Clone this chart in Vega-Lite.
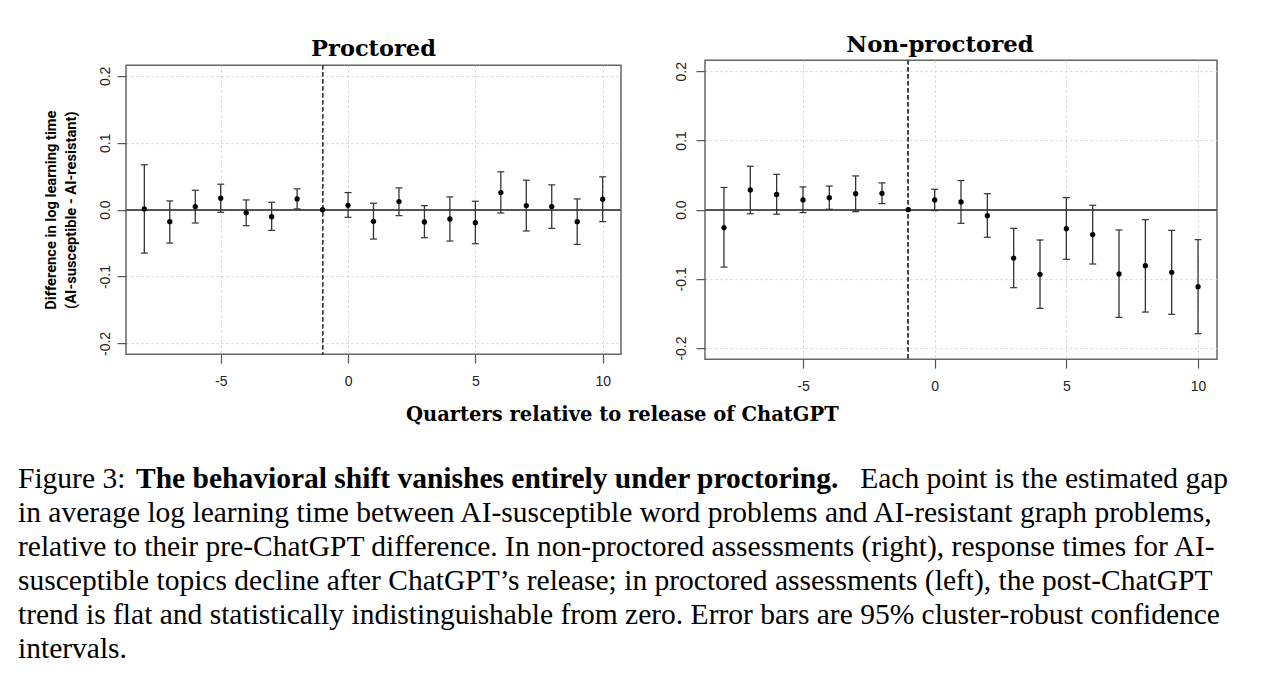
{
  "$schema": "https://vega.github.io/schema/vega-lite/v6.json",
  "padding": {"left": 18, "top": 33, "right": 0, "bottom": 0},
  "background": "white",
  "spacing": 39,
  "config": {
    "view": {"stroke": "#666666", "strokeWidth": 1.5},
    "axis": {
      "domain": false,
      "grid": true,
      "gridColor": "#cfcfcf",
      "gridDash": [2, 3],
      "gridWidth": 1,
      "tickSize": 9,
      "tickColor": "#555555",
      "tickWidth": 1.2,
      "labelFont": "Liberation Sans",
      "labelFontSize": 14,
      "labelColor": "#222222"
    },
    "axisX": {"labelPadding": 11},
    "axisY": {"labelAngle": -90, "labelAlign": "center", "labelBaseline": "bottom", "labelPadding": 5}
  },
  "datasets": {
    "proctored": [
      {"q": -8, "est": 0.001, "lo": -0.065, "hi": 0.067},
      {"q": -7, "est": -0.018, "lo": -0.05, "hi": 0.013},
      {"q": -6, "est": 0.0045, "lo": -0.02, "hi": 0.029},
      {"q": -5, "est": 0.017, "lo": -0.004, "hi": 0.038},
      {"q": -4, "est": -0.0045, "lo": -0.024, "hi": 0.0145},
      {"q": -3, "est": -0.0105, "lo": -0.031, "hi": 0.011},
      {"q": -2, "est": 0.016, "lo": 0.001, "hi": 0.031},
      {"q": -1, "est": 0, "lo": null, "hi": null},
      {"q": 0, "est": 0.0065, "lo": -0.0115, "hi": 0.0255},
      {"q": 1, "est": -0.0175, "lo": -0.044, "hi": 0.0095},
      {"q": 2, "est": 0.012, "lo": -0.009, "hi": 0.0325},
      {"q": 3, "est": -0.0185, "lo": -0.042, "hi": 0.006},
      {"q": 4, "est": -0.014, "lo": -0.047, "hi": 0.019},
      {"q": 5, "est": -0.0195, "lo": -0.051, "hi": 0.0125},
      {"q": 6, "est": 0.0255, "lo": -0.005, "hi": 0.0565},
      {"q": 7, "est": 0.006, "lo": -0.032, "hi": 0.044},
      {"q": 8, "est": 0.0045, "lo": -0.028, "hi": 0.037},
      {"q": 9, "est": -0.018, "lo": -0.052, "hi": 0.016},
      {"q": 10, "est": 0.0155, "lo": -0.018, "hi": 0.049}
    ],
    "nonproctored": [
      {"q": -8, "est": -0.026, "lo": -0.083, "hi": 0.032},
      {"q": -7, "est": 0.0285, "lo": -0.006, "hi": 0.0627},
      {"q": -6, "est": 0.022, "lo": -0.0067, "hi": 0.051},
      {"q": -5, "est": 0.014, "lo": -0.0043, "hi": 0.0328},
      {"q": -4, "est": 0.0173, "lo": 0.0005, "hi": 0.034},
      {"q": -3, "est": 0.023, "lo": -0.003, "hi": 0.0487},
      {"q": -2, "est": 0.0236, "lo": 0.0087, "hi": 0.0386},
      {"q": -1, "est": 0, "lo": null, "hi": null},
      {"q": 0, "est": 0.014, "lo": -0.0014, "hi": 0.0294},
      {"q": 1, "est": 0.011, "lo": -0.0198, "hi": 0.042},
      {"q": 2, "est": -0.0087, "lo": -0.04, "hi": 0.023},
      {"q": 3, "est": -0.07, "lo": -0.1128, "hi": -0.027},
      {"q": 4, "est": -0.0935, "lo": -0.1427, "hi": -0.0439},
      {"q": 5, "est": -0.0275, "lo": -0.0718, "hi": 0.0173},
      {"q": 6, "est": -0.036, "lo": -0.0786, "hi": 0.0063},
      {"q": 7, "est": -0.093, "lo": -0.1557, "hi": -0.0294},
      {"q": 8, "est": -0.081, "lo": -0.148, "hi": -0.0145},
      {"q": 9, "est": -0.0906, "lo": -0.1513, "hi": -0.03},
      {"q": 10, "est": -0.1113, "lo": -0.1793, "hi": -0.0434}
    ],
    "caption": [
      {"line": 1, "part": "lead", "text": "Figure 3:"},
      {"line": 1, "part": "bold", "text": "The behavioral shift vanishes entirely under proctoring."},
      {"line": 1, "part": "tail", "text": "Each point is the estimated gap"},
      {"line": 2, "part": "lead", "text": "in average log learning time between AI-susceptible word problems and AI-resistant graph problems,"},
      {"line": 3, "part": "lead", "text": "relative to their pre-ChatGPT difference. In non-proctored assessments (right), response times for AI-"},
      {"line": 4, "part": "lead", "text": "susceptible topics decline after ChatGPT’s release; in proctored assessments (left), the post-ChatGPT"},
      {"line": 5, "part": "lead", "text": "trend is flat and statistically indistinguishable from zero. Error bars are 95% cluster-robust confidence"},
      {"line": 6, "part": "lead", "text": "intervals."}
    ]
  },
  "vconcat": [
    {
      "title": {
        "text": "Quarters relative to release of ChatGPT",
        "orient": "bottom",
        "anchor": "middle",
        "font": "DejaVu Serif",
        "fontSize": 19.5,
        "fontWeight": "bold",
        "color": "black",
        "offset": 12,
        "dx": -8
      },
      "spacing": 50,
      "center": true,
      "hconcat": [
        {
          "width": 495,
          "height": 289,
          "title": {"text": "Proctored", "font": "DejaVu Serif", "fontSize": 22.5, "fontWeight": "bold", "color": "black", "offset": 4},
          "data": {"name": "proctored"},
          "layer": [
            {
              "mark": {"type": "rule", "color": "#555555", "strokeWidth": 1.4},
              "encoding": {"y": {"datum": 0, "type": "quantitative"}}
            },
            {
              "mark": {"type": "rule", "color": "#444444", "strokeWidth": 1, "strokeDash": [4, 3]},
              "encoding": {"x": {"datum": -1, "type": "quantitative"}}
            },
            {
              "transform": [{"filter": "datum.lo != null"}],
              "mark": {"type": "rule", "color": "#333333", "strokeWidth": 1.3},
              "encoding": {
                "x": {"field": "q", "type": "quantitative"},
                "y": {"field": "lo", "type": "quantitative"},
                "y2": {"field": "hi"}
              }
            },
            {
              "transform": [{"filter": "datum.lo != null"}],
              "mark": {"type": "tick", "orient": "horizontal", "color": "#333333", "size": 7, "thickness": 1.2, "opacity": 1},
              "encoding": {
                "x": {"field": "q", "type": "quantitative"},
                "y": {"field": "lo", "type": "quantitative"}
              }
            },
            {
              "transform": [{"filter": "datum.hi != null"}],
              "mark": {"type": "tick", "orient": "horizontal", "color": "#333333", "size": 7, "thickness": 1.2, "opacity": 1},
              "encoding": {
                "x": {"field": "q", "type": "quantitative"},
                "y": {"field": "hi", "type": "quantitative"}
              }
            },
            {
              "mark": {"type": "circle", "size": 28, "color": "black", "opacity": 1},
              "encoding": {
                "x": {
                  "field": "q",
                  "type": "quantitative",
                  "scale": {"domain": [-8.72, 10.72], "nice": false, "zero": false},
                  "axis": {"values": [-5, 0, 5, 10], "labelExpr": "'' + datum.value", "title": null}
                },
                "y": {
                  "field": "est",
                  "type": "quantitative",
                  "scale": {"domain": [-0.216, 0.216], "nice": false, "zero": false},
                  "axis": {
                    "values": [-0.2, -0.1, 0, 0.1, 0.2],
                    "labelExpr": "replace(format(datum.value, '.1f'), '\u2212', '-')",
                    "title": ["Difference in log learning time", "(AI-susceptible - AI-resistant)"],
                    "titleFont": "Roboto",
                    "titleFontSize": 14.7,
                    "titleFontWeight": "bold",
                    "titleColor": "black",
                    "titleLineHeight": 20,
                    "titlePadding": 20
                  }
                }
              }
            }
          ]
        },
        {
          "width": 512,
          "height": 299,
          "title": {"text": "Non-proctored", "font": "DejaVu Serif", "fontSize": 22.8, "fontWeight": "bold", "color": "black", "offset": 3, "dx": -21},
          "data": {"name": "nonproctored"},
          "layer": [
            {
              "mark": {"type": "rule", "color": "#555555", "strokeWidth": 1.4},
              "encoding": {"y": {"datum": 0, "type": "quantitative"}}
            },
            {
              "mark": {"type": "rule", "color": "#444444", "strokeWidth": 1, "strokeDash": [4, 3]},
              "encoding": {"x": {"datum": -1, "type": "quantitative"}}
            },
            {
              "transform": [{"filter": "datum.lo != null"}],
              "mark": {"type": "rule", "color": "#333333", "strokeWidth": 1.3},
              "encoding": {
                "x": {"field": "q", "type": "quantitative"},
                "y": {"field": "lo", "type": "quantitative"},
                "y2": {"field": "hi"}
              }
            },
            {
              "transform": [{"filter": "datum.lo != null"}],
              "mark": {"type": "tick", "orient": "horizontal", "color": "#333333", "size": 7, "thickness": 1.2, "opacity": 1},
              "encoding": {
                "x": {"field": "q", "type": "quantitative"},
                "y": {"field": "lo", "type": "quantitative"}
              }
            },
            {
              "transform": [{"filter": "datum.hi != null"}],
              "mark": {"type": "tick", "orient": "horizontal", "color": "#333333", "size": 7, "thickness": 1.2, "opacity": 1},
              "encoding": {
                "x": {"field": "q", "type": "quantitative"},
                "y": {"field": "hi", "type": "quantitative"}
              }
            },
            {
              "mark": {"type": "circle", "size": 28, "color": "black", "opacity": 1},
              "encoding": {
                "x": {
                  "field": "q",
                  "type": "quantitative",
                  "scale": {"domain": [-8.72, 10.72], "nice": false, "zero": false},
                  "axis": {"values": [-5, 0, 5, 10], "labelExpr": "'' + datum.value", "title": null}
                },
                "y": {
                  "field": "est",
                  "type": "quantitative",
                  "scale": {"domain": [-0.216, 0.216], "nice": false, "zero": false},
                  "axis": {
                    "values": [-0.2, -0.1, 0, 0.1, 0.2],
                    "labelExpr": "replace(format(datum.value, '.1f'), '\u2212', '-')",
                    "labelPadding": 8,
                    "title": null
                  }
                }
              }
            }
          ]
        }
      ]
    },
    {
      "width": 1102,
      "height": {"step": 34},
      "view": {"stroke": null},
      "data": {"name": "caption"},
      "encoding": {"y": {"field": "line", "type": "ordinal", "axis": null}},
      "layer": [
        {
          "transform": [{"filter": "datum.part == 'lead'"}],
          "mark": {"type": "text", "align": "left", "baseline": "alphabetic", "font": "Liberation Serif", "fontSize": 29.5, "color": "black", "dx": -108},
          "encoding": {"x": {"value": 0}, "text": {"field": "text"}}
        },
        {
          "transform": [{"filter": "datum.part == 'bold'"}],
          "mark": {"type": "text", "align": "left", "baseline": "alphabetic", "font": "Liberation Serif", "fontSize": 29.5, "fontWeight": "bold", "color": "black", "dx": 10},
          "encoding": {"x": {"value": 0}, "text": {"field": "text"}}
        },
        {
          "transform": [{"filter": "datum.part == 'tail'"}],
          "mark": {"type": "text", "align": "right", "baseline": "alphabetic", "font": "Liberation Serif", "fontSize": 29.5, "color": "black"},
          "encoding": {"x": {"value": "width"}, "text": {"field": "text"}}
        }
      ]
    }
  ]
}
